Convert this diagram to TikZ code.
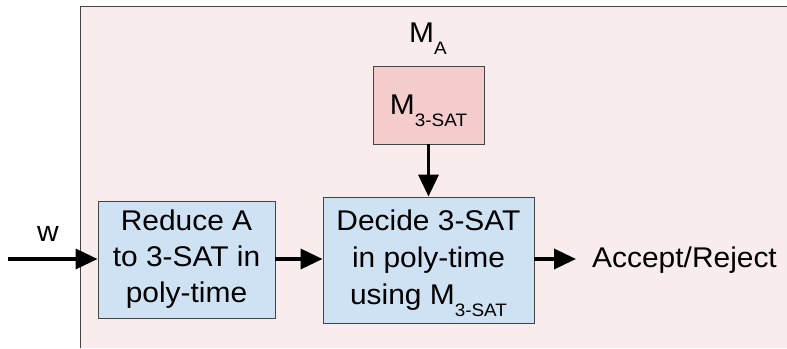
\documentclass[tikz,border=0pt]{standalone}
\usepackage{fontspec}
\setmainfont[FakeStretch=1.05]{Liberation Sans}
\usetikzlibrary{arrows.meta}
\definecolor{machinebg}{HTML}{F9ECEC}
\definecolor{oraclefill}{HTML}{F4CCCC}
\definecolor{stepfill}{HTML}{CFE2F3}
\definecolor{edgegray}{HTML}{444444}
% lowered subscript that does not change the line's height
\newcommand\lowsub[1]{\smash{\raisebox{-12pt}{\fontsize{18}{18}\selectfont #1}}}
\tikzset{
  bigtext/.style={font=\fontsize{28.5}{36}\selectfont},
  stagebox/.style={bigtext, draw=edgegray, line width=0.9pt, align=center, inner sep=0pt},
  flow/.style={line width=3.6pt, -{Triangle[length=22pt,width=20pt]}},
}
\begin{document}
\begin{tikzpicture}[x=1pt,y=-1pt]
\useasboundingbox (0,0) rectangle (787,348);
% the machine M_A, running off the right and bottom edges
\fill[machinebg] (80,6) rectangle (787,348);
\draw[edgegray, line width=0.9pt] (80,348) -- (80,6) -- (787,6);
\node[bigtext, anchor=base west, inner sep=0pt] (ma) at (409,42) {M\lowsub{A}};
% stages
\node[stagebox, fill=oraclefill, minimum width=111pt, minimum height=78pt] (oracle) at (428.5,105) {M\lowsub{3-SAT}};
\node[stagebox, fill=stepfill, minimum width=177pt, minimum height=117pt] (reduce) at (186.5,259.5) {Reduce A\\to 3-SAT in\\poly-time};
\node[stagebox, fill=stepfill, minimum width=211pt, minimum height=126pt, font=\fontsize{28.5}{37}\selectfont] (decide) at (428.5,260) {Decide 3-SAT\\in poly-time\\using M\lowsub{3-SAT}};
\node[bigtext, anchor=base west, inner sep=0pt] (out) at (592,267) {Accept/Reject};
\coordinate (in) at (8,259);
\node[bigtext, inner sep=0pt] (w) at (48,234) {w};
% connectors
\draw[flow] (in) -- (reduce.west |- in);
\draw[flow] (reduce.east |- in) -- (decide.west |- in);
\draw[flow] (decide.east |- 0,259) -- (576,259);
\draw[flow] (oracle.south) -- (decide.north);
\end{tikzpicture}
\end{document}
